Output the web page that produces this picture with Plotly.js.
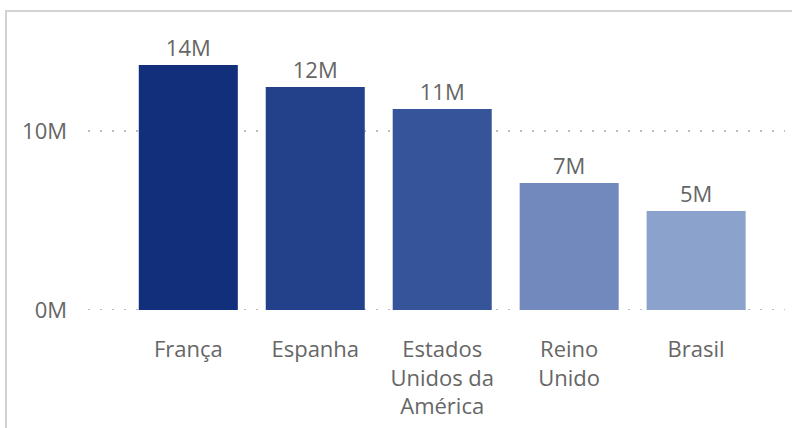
<!DOCTYPE html>
<html>
<head>
<meta charset="utf-8">
<script src="https://cdn.plot.ly/plotly-3.0.1.min.js"></script>
<style>
  html, body { margin: 0; padding: 0; background: #ffffff; }
  #wrap { position: relative; width: 792px; height: 428px; overflow: hidden; }
  #chart { position: absolute; left: 0; top: 0; width: 792px; height: 428px; }
  #frame { position: absolute; left: 5px; top: 10px; width: 800px; height: 430px;
           border-top: 2px solid #d3d2d0; border-left: 2px solid #d3d2d0; pointer-events: none; }
</style>
</head>
<body>
<div id="wrap">
  <div id="chart"></div>
  <div id="frame"></div>
</div>
<script>
const categories = ["França", "Espanha", "Estados<br>Unidos da<br>América", "Reino<br>Unido", "Brasil"];
const values = [13.69e6, 12.46e6, 11.23e6, 7.09e6, 5.53e6];
const valueLabels = ["14M", "12M", "11M", "7M", "5M"];
const barColors = ["#112F7B", "#22418A", "#36549A", "#7189BC", "#8BA3CC"];
const yTickVals = [0, 10e6];
const yTickText = ["0M", "10M"];

const FONT = "'Segoe UI', 'Open Sans', 'Noto Sans', sans-serif";
const TXT = "#666666";
const FS = 22;
const GRID_DASH = "2px,10px";
const GRID_COLOR = "#bdbdbd";

const trace = {
  type: "bar",
  x: categories,
  y: values,
  marker: { color: barColors, line: { width: 0 } },
  text: valueLabels,
  textposition: "outside",
  texttemplate: "%{text}",
  textfont: { family: FONT, size: FS, color: TXT },
  cliponaxis: false,
  hoverinfo: "skip"
};

const layout = {
  width: 792,
  height: 428,
  margin: { l: 88, r: 7, t: 40, b: 118 },
  paper_bgcolor: "#ffffff",
  plot_bgcolor: "#ffffff",
  bargap: 0.22,
  showlegend: false,
  font: { family: FONT, size: FS, color: TXT },
  xaxis: {
    type: "category",
    range: [-0.79, 4.7],
    showgrid: false,
    zeroline: false,
    showline: false,
    ticks: "",
    ticklabelstandoff: 24,
    tickfont: { family: FONT, size: FS, color: TXT },
    fixedrange: true
  },
  yaxis: {
    range: [0, 15.08e6],
    tickvals: yTickVals,
    ticktext: yTickText,
    showgrid: true,
    gridcolor: GRID_COLOR,
    gridwidth: 2,
    griddash: GRID_DASH,
    zeroline: false,
    showline: false,
    ticks: "",
    ticklabelstandoff: 20,
    tickfont: { family: FONT, size: FS, color: TXT },
    fixedrange: true
  },
  shapes: [{
    type: "line", layer: "below",
    xref: "paper", x0: 0, x1: 1,
    yref: "y", y0: yTickVals[0], y1: yTickVals[0],
    line: { color: GRID_COLOR, width: 2, dash: GRID_DASH }
  }]
};

Plotly.newPlot("chart", [trace], layout, { displayModeBar: false, staticPlot: true });
</script>
</body>
</html>
